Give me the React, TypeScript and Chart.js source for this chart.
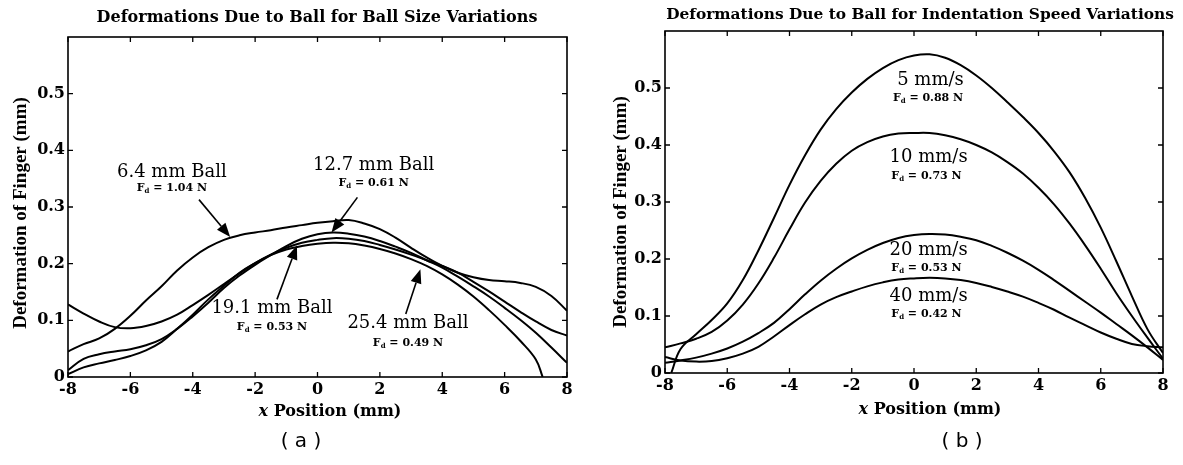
import React, { useEffect, useRef } from 'react';
import { Chart, registerables } from 'chart.js';

Chart.register(...registerables);

// ---------------- data: panel (a) ball size variations ----------------
const ballX = [-8, -7.5, -7, -6.5, -6, -5.5, -5, -4.5, -4, -3.5, -3, -2.5, -2, -1.5, -1, -0.5, 0, 0.5, 1, 1.5, 2, 2.5, 3, 3.5, 4, 4.5, 5, 5.5, 6, 6.5, 7, 7.5, 8];
const ball6_4 = [0.045, 0.058, 0.068, 0.085, 0.108, 0.135, 0.160, 0.188, 0.211, 0.229, 0.242, 0.250, 0.255, 0.259, 0.264, 0.268, 0.272, 0.275, 0.277, 0.271, 0.261, 0.246, 0.228, 0.211, 0.196, 0.184, 0.176, 0.171, 0.169, 0.166, 0.159, 0.143, 0.117];
const ball12_7 = [0.012, 0.032, 0.040, 0.045, 0.049, 0.056, 0.067, 0.085, 0.107, 0.131, 0.157, 0.179, 0.198, 0.215, 0.231, 0.244, 0.252, 0.255, 0.253, 0.248, 0.240, 0.230, 0.219, 0.206, 0.193, 0.177, 0.160, 0.142, 0.122, 0.101, 0.078, 0.052, 0.025];
const ball19_1 = [0.128, 0.112, 0.098, 0.088, 0.086, 0.090, 0.098, 0.110, 0.127, 0.145, 0.164, 0.183, 0.201, 0.216, 0.228, 0.237, 0.242, 0.245, 0.244, 0.240, 0.233, 0.225, 0.216, 0.206, 0.196, 0.184, 0.168, 0.151, 0.133, 0.115, 0.098, 0.083, 0.073];
const ball25_4X = [-8, -7.5, -7, -6.5, -6, -5.5, -5, -4.5, -4, -3.5, -3, -2.5, -2, -1.5, -1, -0.5, 0, 0.5, 1, 1.5, 2, 2.5, 3, 3.5, 4, 4.5, 5, 5.5, 6, 6.5, 7, 7.22];
const ball25_4 = [0.005, 0.017, 0.024, 0.030, 0.037, 0.047, 0.062, 0.085, 0.110, 0.137, 0.161, 0.184, 0.201, 0.215, 0.225, 0.231, 0.235, 0.237, 0.236, 0.232, 0.226, 0.218, 0.208, 0.196, 0.181, 0.163, 0.142, 0.118, 0.092, 0.064, 0.031, 0.0];

const ballLabels = ['6.4 mm Ball', '12.7 mm Ball', '19.1 mm Ball', '25.4 mm Ball'];
const ballForces = ['1.04', '0.61', '0.53', '0.49'];
const ballLabelX = [-4.67, 1.8, -1.46, 2.9];
const ballLabelY = [0.362, 0.374, 0.121, 0.094];
const ballForceY = [0.333, 0.342, 0.088, 0.060];
const ballArrowFrom = [[-3.8, 0.313], [1.28, 0.317], [-1.3, 0.137], [2.83, 0.111]];
const ballArrowTo = [[-2.8, 0.247], [0.45, 0.255], [-0.66, 0.232], [3.3, 0.19]];

// ---------------- data: panel (b) indentation speed variations ----------------
const speedX = [-8, -7.5, -7, -6.5, -6, -5.5, -5, -4.5, -4, -3.5, -3, -2.5, -2, -1.5, -1, -0.5, 0, 0.5, 1, 1.5, 2, 2.5, 3, 3.5, 4, 4.5, 5, 5.5, 6, 6.5, 7, 7.5, 8];
const speed5X = [-7.8, -7.5, -7, -6.5, -6, -5.5, -5, -4.5, -4, -3.5, -3, -2.5, -2, -1.5, -1, -0.5, 0, 0.5, 1, 1.5, 2, 2.5, 3, 3.5, 4, 4.5, 5, 5.5, 6, 6.5, 7, 7.5, 8];
const speed5 = [0.0, 0.042, 0.068, 0.093, 0.122, 0.163, 0.215, 0.272, 0.330, 0.382, 0.427, 0.463, 0.492, 0.516, 0.535, 0.549, 0.557, 0.559, 0.553, 0.540, 0.522, 0.500, 0.475, 0.449, 0.421, 0.389, 0.352, 0.307, 0.255, 0.196, 0.135, 0.077, 0.035];
const speed10 = [0.045, 0.052, 0.060, 0.072, 0.092, 0.120, 0.157, 0.202, 0.252, 0.299, 0.337, 0.367, 0.390, 0.405, 0.415, 0.420, 0.421, 0.421, 0.417, 0.410, 0.400, 0.387, 0.370, 0.350, 0.325, 0.296, 0.262, 0.224, 0.183, 0.140, 0.100, 0.062, 0.025];
const speed20 = [0.018, 0.022, 0.027, 0.034, 0.043, 0.055, 0.070, 0.088, 0.112, 0.138, 0.162, 0.183, 0.201, 0.216, 0.228, 0.237, 0.242, 0.244, 0.243, 0.239, 0.233, 0.223, 0.211, 0.197, 0.181, 0.163, 0.144, 0.125, 0.106, 0.086, 0.066, 0.045, 0.023];
const speed40 = [0.028, 0.022, 0.020, 0.021, 0.026, 0.034, 0.046, 0.064, 0.084, 0.103, 0.120, 0.133, 0.143, 0.152, 0.159, 0.164, 0.166, 0.167, 0.166, 0.163, 0.158, 0.151, 0.143, 0.134, 0.123, 0.111, 0.097, 0.084, 0.071, 0.060, 0.051, 0.047, 0.045];

const speedLabels = ['5 mm/s', '10 mm/s', '20 mm/s', '40 mm/s'];
const speedForces = ['0.88', '0.73', '0.53', '0.42'];
const speedLabelX = [0.53, 0.47, 0.47, 0.47];
const speedLabelY = [0.514, 0.378, 0.216, 0.135];
const speedForceX = [0.45, 0.4, 0.4, 0.4];
const speedForceY = [0.483, 0.346, 0.184, 0.104];

const xTicks = [-8, -6, -4, -2, 0, 2, 4, 6, 8];
const yTicks = [0, 0.1, 0.2, 0.3, 0.4, 0.5];

// ---------------- layout ----------------
const H = 465;
const SERIF_W = '"DejaVu Serif", serif';
const SERIF_N = '"Liberation Serif", "Times New Roman", serif';

type Panel = {
  left: number;
  width: number;
  area: { l: number; t: number; r: number; b: number };
  title: string;
  titleSize: number;
  titleX: number;
  titleY: number;
  yTitleX: number;
  yTitleY: number;
  xTitleX: number;
  xTitleY: number;
  panel: string;
  panelX: number;
  panelY: number;
  series: { xs: number[]; ys: number[]; label: string }[];
  labels: { text: string; x: number; y: number }[];
  forces: { value: string; x: number; y: number }[];
  arrows: { from: number[]; to: number[] }[];
};

const panelA: Panel = {
  left: 0,
  width: 610,
  area: { l: 68, t: 37, r: 567, b: 377 },
  title: 'Deformations Due to Ball for Ball Size Variations',
  titleSize: 16,
  titleX: 317,
  titleY: 18,
  yTitleX: 21,
  yTitleY: 213,
  xTitleX: 330,
  xTitleY: 412,
  panel: '( a )',
  panelX: 301,
  panelY: 442,
  series: [
    { xs: ballX, ys: ball6_4, label: '6.4 mm Ball' },
    { xs: ballX, ys: ball12_7, label: '12.7 mm Ball' },
    { xs: ballX, ys: ball19_1, label: '19.1 mm Ball' },
    { xs: ball25_4X, ys: ball25_4, label: '25.4 mm Ball' },
  ],
  labels: ballLabels.map((t, i) => ({ text: t, x: ballLabelX[i], y: ballLabelY[i] })),
  forces: ballForces.map((v, i) => ({ value: v, x: ballLabelX[i], y: ballForceY[i] })),
  arrows: ballArrowFrom.map((f, i) => ({ from: f, to: ballArrowTo[i] })),
};

const panelB: Panel = {
  left: 610,
  width: 573,
  area: { l: 55, t: 31, r: 553, b: 373 },
  title: 'Deformations Due to Ball for Indentation Speed Variations',
  titleSize: 15.4,
  titleX: 310,
  titleY: 15,
  yTitleX: 11,
  yTitleY: 212,
  xTitleX: 320,
  xTitleY: 410,
  panel: '( b )',
  panelX: 352,
  panelY: 442,
  series: [
    { xs: speed5X, ys: speed5, label: '5 mm/s' },
    { xs: speedX, ys: speed10, label: '10 mm/s' },
    { xs: speedX, ys: speed20, label: '20 mm/s' },
    { xs: speedX, ys: speed40, label: '40 mm/s' },
  ],
  labels: speedLabels.map((t, i) => ({ text: t, x: speedLabelX[i], y: speedLabelY[i] })),
  forces: speedForces.map((v, i) => ({ value: v, x: speedForceX[i], y: speedForceY[i] })),
  arrows: [],
};

function drawForce(ctx: CanvasRenderingContext2D, cx: number, cy: number, value: string) {
  const big = `bold 11px ${SERIF_W}`;
  const small = `bold 7px ${SERIF_W}`;
  const rest = ` = ${value} N`;
  ctx.font = big;
  const wF = ctx.measureText('F').width;
  const wR = ctx.measureText(rest).width;
  ctx.font = small;
  const wd = ctx.measureText('d').width;
  const total = wF + wd + wR;
  let x = cx - total / 2;
  ctx.textAlign = 'left';
  ctx.textBaseline = 'middle';
  ctx.font = big;
  ctx.fillText('F', x, cy);
  x += wF;
  ctx.font = small;
  ctx.fillText('d', x, cy + 3);
  x += wd;
  ctx.font = big;
  ctx.fillText(rest, x, cy);
}

function drawArrow(ctx: CanvasRenderingContext2D, x0: number, y0: number, x1: number, y1: number) {
  const ang = Math.atan2(y1 - y0, x1 - x0);
  const headLen = 14;
  const headW = 5.5;
  const bx = x1 - headLen * Math.cos(ang);
  const by = y1 - headLen * Math.sin(ang);
  ctx.beginPath();
  ctx.lineWidth = 1.6;
  ctx.moveTo(x0, y0);
  ctx.lineTo(bx, by);
  ctx.stroke();
  ctx.beginPath();
  ctx.moveTo(x1, y1);
  ctx.lineTo(bx + headW * Math.sin(ang), by - headW * Math.cos(ang));
  ctx.lineTo(bx - headW * Math.sin(ang), by + headW * Math.cos(ang));
  ctx.closePath();
  ctx.fill();
}

function makeDecor(p: Panel) {
  return {
    id: 'decor',
    afterDraw(chart: any) {
      const ctx: CanvasRenderingContext2D = chart.ctx;
      const a = chart.chartArea;
      const xs = chart.scales.x;
      const ys = chart.scales.y;
      ctx.save();
      ctx.strokeStyle = '#000';
      ctx.fillStyle = '#000';
      // frame
      ctx.lineWidth = 1.6;
      ctx.strokeRect(a.left, a.top, a.right - a.left, a.bottom - a.top);
      // inward ticks
      ctx.lineWidth = 1.3;
      const tl = 5;
      xTicks.forEach((v) => {
        const px = xs.getPixelForValue(v);
        ctx.beginPath();
        ctx.moveTo(px, a.bottom);
        ctx.lineTo(px, a.bottom - tl);
        ctx.moveTo(px, a.top);
        ctx.lineTo(px, a.top + tl);
        ctx.stroke();
      });
      yTicks.forEach((v) => {
        const py = ys.getPixelForValue(v);
        ctx.beginPath();
        ctx.moveTo(a.left, py);
        ctx.lineTo(a.left + tl, py);
        ctx.moveTo(a.right, py);
        ctx.lineTo(a.right - tl, py);
        ctx.stroke();
      });
      // annotations
      p.labels.forEach((l) => {
        ctx.font = `18px ${SERIF_W}`;
        ctx.textAlign = 'center';
        ctx.textBaseline = 'middle';
        ctx.fillText(l.text, xs.getPixelForValue(l.x), ys.getPixelForValue(l.y));
      });
      p.forces.forEach((f) => {
        drawForce(ctx, xs.getPixelForValue(f.x), ys.getPixelForValue(f.y), f.value);
      });
      p.arrows.forEach((ar) => {
        drawArrow(
          ctx,
          xs.getPixelForValue(ar.from[0]),
          ys.getPixelForValue(ar.from[1]),
          xs.getPixelForValue(ar.to[0]),
          ys.getPixelForValue(ar.to[1])
        );
      });
      // chart title
      ctx.font = `bold ${p.titleSize}px ${SERIF_W}`;
      ctx.textAlign = 'center';
      ctx.textBaseline = 'middle';
      ctx.fillText(p.title, p.titleX, p.titleY);
      // x axis title
      const it = `italic bold 16px ${SERIF_W}`;
      const bt = `bold 16px ${SERIF_W}`;
      ctx.font = it;
      const wx = ctx.measureText('x').width;
      ctx.font = bt;
      const wr = ctx.measureText(' Position (mm)').width;
      let sx = p.xTitleX - (wx + wr) / 2;
      ctx.textAlign = 'left';
      ctx.font = it;
      ctx.fillText('x', sx, p.xTitleY);
      sx += wx;
      ctx.font = bt;
      ctx.fillText(' Position (mm)', sx, p.xTitleY);
      // y axis title
      ctx.save();
      ctx.translate(p.yTitleX, p.yTitleY);
      ctx.rotate(-Math.PI / 2);
      ctx.font = `bold 19px ${SERIF_N}`;
      ctx.textAlign = 'center';
      ctx.textBaseline = 'middle';
      ctx.fillText('Deformation of Finger (mm)', 0, 0);
      ctx.restore();
      // panel label
      ctx.font = `20px "DejaVu Sans", sans-serif`;
      ctx.textAlign = 'center';
      ctx.textBaseline = 'middle';
      ctx.fillText(p.panel, p.panelX, p.panelY);
      ctx.restore();
    },
  };
}

function makeChart(canvas: HTMLCanvasElement, p: Panel) {
  const tickFont = { family: SERIF_W, weight: 'bold' as const, size: 16 };
  return new Chart(canvas, {
    type: 'line',
    data: {
      datasets: p.series.map((s) => ({
        label: s.label,
        data: s.xs.map((x, i) => ({ x, y: s.ys[i] })),
        borderColor: '#000',
        borderWidth: 2,
        pointRadius: 0,
        fill: false,
        tension: 0.4,
      })),
    },
    options: {
      animation: false,
      responsive: false,
      devicePixelRatio: 1,
      layout: { padding: { left: 0, top: p.area.t, right: p.width - p.area.r, bottom: 0 } },
      plugins: { legend: { display: false }, tooltip: { enabled: false }, title: { display: false } },
      scales: {
        x: {
          type: 'linear',
          min: -8,
          max: 8,
          ticks: {
            stepSize: 2,
            padding: 3,
            color: '#000',
            font: tickFont,
            maxRotation: 0,
            autoSkip: false,
            callback: (v: any) => String(v),
          },
          grid: { display: false, drawTicks: false },
          border: { display: false },
          afterFit: (s: any) => {
            s.height = H - p.area.b;
          },
        },
        y: {
          type: 'linear',
          min: 0,
          max: 0.6,
          ticks: {
            stepSize: 0.1,
            padding: 3,
            color: '#000',
            font: tickFont,
            callback: (v: any) => (v > 0.55 ? '' : String(Math.round(v * 10) / 10)),
          },
          grid: { display: false, drawTicks: false },
          border: { display: false },
          afterFit: (s: any) => {
            s.width = p.area.l;
          },
        },
      },
    },
    plugins: [makeDecor(p)],
  } as any);
}

function ChartPanel({ p }: { p: Panel }) {
  const ref = useRef<HTMLCanvasElement>(null);
  useEffect(() => {
    if (!ref.current) return;
    const c = makeChart(ref.current, p);
    return () => c.destroy();
  }, [p]);
  return (
    <canvas
      ref={ref}
      width={p.width}
      height={H}
      style={{ position: 'absolute', left: p.left, top: 0, width: p.width, height: H }}
    />
  );
}

export default function App() {
  return (
    <div style={{ position: 'absolute', left: 0, top: 0, width: 1183, height: H, background: '#fff', overflow: 'hidden' }}>
      <ChartPanel p={panelA} />
      <ChartPanel p={panelB} />
    </div>
  );
}
